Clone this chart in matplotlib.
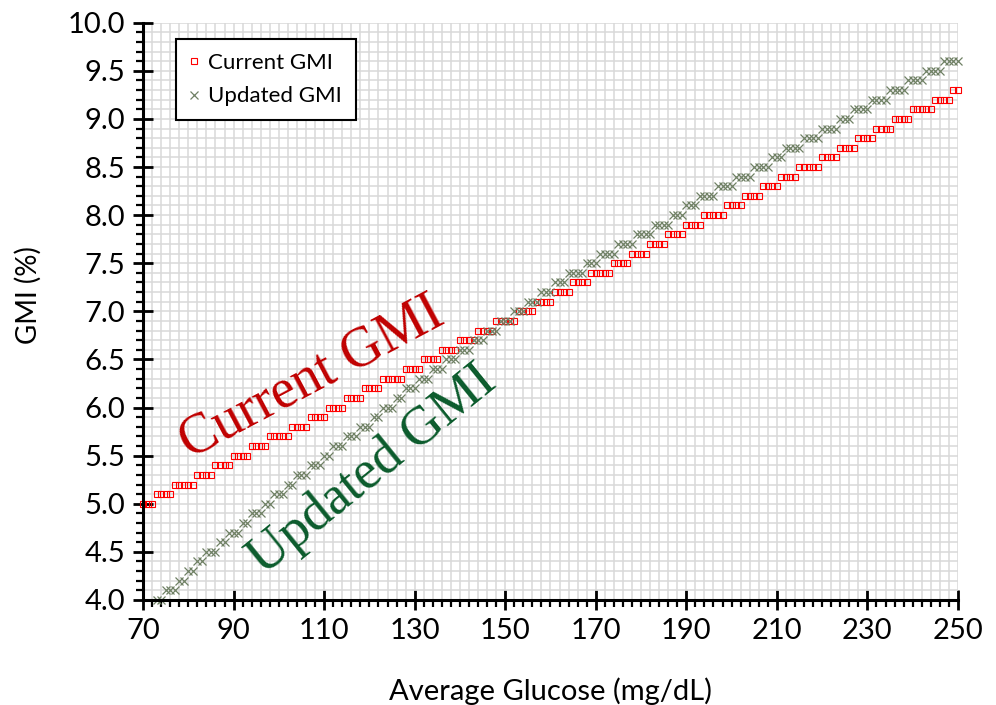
import numpy as np
import matplotlib
matplotlib.use("Agg")
import matplotlib.pyplot as plt
from matplotlib.ticker import MultipleLocator, FormatStrFormatter

# ---------------- data ----------------
glucose = list(range(70, 251))  # mg/dL, one point per integer value

current_gmi = [
    5.0, 5.0, 5.0, 5.1, 5.1, 5.1, 5.1, 5.2, 5.2, 5.2,   # 70-79
    5.2, 5.2, 5.3, 5.3, 5.3, 5.3, 5.4, 5.4, 5.4, 5.4,   # 80-89
    5.5, 5.5, 5.5, 5.5, 5.6, 5.6, 5.6, 5.6, 5.7, 5.7,   # 90-99
    5.7, 5.7, 5.7, 5.8, 5.8, 5.8, 5.8, 5.9, 5.9, 5.9,   # 100-109
    5.9, 6.0, 6.0, 6.0, 6.0, 6.1, 6.1, 6.1, 6.1, 6.2,   # 110-119
    6.2, 6.2, 6.2, 6.3, 6.3, 6.3, 6.3, 6.3, 6.4, 6.4,   # 120-129
    6.4, 6.4, 6.5, 6.5, 6.5, 6.5, 6.6, 6.6, 6.6, 6.6,   # 130-139
    6.7, 6.7, 6.7, 6.7, 6.8, 6.8, 6.8, 6.8, 6.9, 6.9,   # 140-149
    6.9, 6.9, 6.9, 7.0, 7.0, 7.0, 7.0, 7.1, 7.1, 7.1,   # 150-159
    7.1, 7.2, 7.2, 7.2, 7.2, 7.3, 7.3, 7.3, 7.3, 7.4,   # 160-169
    7.4, 7.4, 7.4, 7.4, 7.5, 7.5, 7.5, 7.5, 7.6, 7.6,   # 170-179
    7.6, 7.6, 7.7, 7.7, 7.7, 7.7, 7.8, 7.8, 7.8, 7.8,   # 180-189
    7.9, 7.9, 7.9, 7.9, 8.0, 8.0, 8.0, 8.0, 8.0, 8.1,   # 190-199
    8.1, 8.1, 8.1, 8.2, 8.2, 8.2, 8.2, 8.3, 8.3, 8.3,   # 200-209
    8.3, 8.4, 8.4, 8.4, 8.4, 8.5, 8.5, 8.5, 8.5, 8.5,   # 210-219
    8.6, 8.6, 8.6, 8.6, 8.7, 8.7, 8.7, 8.7, 8.8, 8.8,   # 220-229
    8.8, 8.8, 8.9, 8.9, 8.9, 8.9, 9.0, 9.0, 9.0, 9.0,   # 230-239
    9.1, 9.1, 9.1, 9.1, 9.1, 9.2, 9.2, 9.2, 9.2, 9.3,   # 240-249
    9.3,                                                # 250
]

updated_gmi = [
    3.8, 3.9, 3.9, 4.0, 4.0, 4.1, 4.1, 4.1, 4.2, 4.2,   # 70-79
    4.3, 4.3, 4.4, 4.4, 4.5, 4.5, 4.5, 4.6, 4.6, 4.7,   # 80-89
    4.7, 4.7, 4.8, 4.8, 4.9, 4.9, 4.9, 5.0, 5.0, 5.1,   # 90-99
    5.1, 5.1, 5.2, 5.2, 5.3, 5.3, 5.3, 5.4, 5.4, 5.4,   # 100-109
    5.5, 5.5, 5.6, 5.6, 5.6, 5.7, 5.7, 5.7, 5.8, 5.8,   # 110-119
    5.8, 5.9, 5.9, 6.0, 6.0, 6.0, 6.1, 6.1, 6.2, 6.2,   # 120-129
    6.2, 6.3, 6.3, 6.3, 6.4, 6.4, 6.4, 6.5, 6.5, 6.5,   # 130-139
    6.6, 6.6, 6.6, 6.7, 6.7, 6.7, 6.8, 6.8, 6.8, 6.9,   # 140-149
    6.9, 6.9, 7.0, 7.0, 7.0, 7.1, 7.1, 7.1, 7.2, 7.2,   # 150-159
    7.2, 7.3, 7.3, 7.3, 7.4, 7.4, 7.4, 7.4, 7.5, 7.5,   # 160-169
    7.5, 7.6, 7.6, 7.6, 7.6, 7.7, 7.7, 7.7, 7.7, 7.8,   # 170-179
    7.8, 7.8, 7.8, 7.9, 7.9, 7.9, 7.9, 8.0, 8.0, 8.0,   # 180-189
    8.1, 8.1, 8.1, 8.2, 8.2, 8.2, 8.2, 8.3, 8.3, 8.3,   # 190-199
    8.3, 8.4, 8.4, 8.4, 8.4, 8.5, 8.5, 8.5, 8.5, 8.6,   # 200-209
    8.6, 8.6, 8.7, 8.7, 8.7, 8.7, 8.8, 8.8, 8.8, 8.8,   # 210-219
    8.9, 8.9, 8.9, 8.9, 9.0, 9.0, 9.0, 9.1, 9.1, 9.1,   # 220-229
    9.1, 9.2, 9.2, 9.2, 9.2, 9.3, 9.3, 9.3, 9.3, 9.4,   # 230-239
    9.4, 9.4, 9.4, 9.5, 9.5, 9.5, 9.5, 9.6, 9.6, 9.6,   # 240-249
    9.6,                                                # 250
]

series_names = ["Current GMI", "Updated GMI"]
x_ticks = [70, 90, 110, 130, 150, 170, 190, 210, 230, 250]
x_label = "Average Glucose (mg/dL)"
y_label = "GMI (%)"

# ---------------- figure ----------------
sans = ["Lato", "DejaVu Sans"]
serif = ["Liberation Serif", "DejaVu Serif"]

fig = plt.figure(figsize=(9.96, 7.05), dpi=100)
ax = fig.add_axes([0.1436, 0.149, 0.8182, 0.8188])

X_MIN, X_MAX, Y_MIN, Y_MAX = 70, 250, 4.0, 10.0
ax.set_xlim(X_MIN, X_MAX)
ax.set_ylim(Y_MIN, Y_MAX)

ax.set_xticks(x_ticks)
ax.xaxis.set_minor_locator(MultipleLocator(2))
ax.yaxis.set_major_locator(MultipleLocator(0.5))
ax.yaxis.set_minor_locator(MultipleLocator(0.1))
ax.yaxis.set_major_formatter(FormatStrFormatter("%.1f"))

ax.grid(True, which="both", color="#D9D9D9", linewidth=1.1, zorder=0)
ax.set_axisbelow(True)

for s in ["top", "right"]:
    ax.spines[s].set_visible(False)
for s in ["left", "bottom"]:
    ax.spines[s].set_linewidth(2.2)
    ax.spines[s].set_color("black")
    ax.spines[s].set_zorder(5)

ax.tick_params(axis="both", which="major", direction="inout", length=14,
               width=2.0, color="black", labelsize=21, pad=6)
ax.tick_params(axis="both", which="minor", direction="out", length=5,
               width=1.6, color="black")
for lab in ax.get_xticklabels() + ax.get_yticklabels():
    lab.set_family(sans)


def in_range(xs, ys):
    pts = [(x, y) for x, y in zip(xs, ys) if Y_MIN <= y <= Y_MAX]
    return [p[0] for p in pts], [p[1] for p in pts]


cx, cy = in_range(glucose, current_gmi)
ux, uy = in_range(glucose, updated_gmi)

ax.plot(cx, cy, linestyle="none", marker="s", markersize=4.4,
        markerfacecolor="none", markeredgecolor="#FF0000", markeredgewidth=0.8,
        label=series_names[0], zorder=3, clip_on=False)
ax.plot(ux, uy, linestyle="none", marker="x", markersize=6,
        color="#6F8064", markeredgewidth=0.9, label=series_names[1], zorder=3,
        clip_on=False)

ax.set_xlabel(x_label, fontsize=21, family=sans)
ax.xaxis.set_label_coords(0.5, -0.135)
ax.set_ylabel(y_label, fontsize=20, family=sans)
ax.yaxis.set_label_coords(-0.124, 0.528)

leg = ax.legend(loc="upper left", bbox_to_anchor=(0.041, 0.972),
                borderaxespad=0, frameon=True, fancybox=False,
                edgecolor="black", framealpha=1, prop={"family": sans, "size": 16},
                handlelength=0.35, handletextpad=0.45, borderpad=0.62,
                labelspacing=0.62, markerscale=1.0)
leg.get_frame().set_linewidth(1.5)
leg.set_zorder(6)

ax.text(107.3, 6.31, "Current GMI", color="#C00000", fontsize=40,
        family=serif, rotation=28, rotation_mode="anchor",
        ha="center", va="center", zorder=4)
ax.text(120.6, 5.35, "Updated GMI", color="#0B5B2C", fontsize=39,
        family=serif, rotation=39, rotation_mode="anchor",
        ha="center", va="center", zorder=4)

fig.savefig("out.png", dpi=100)
